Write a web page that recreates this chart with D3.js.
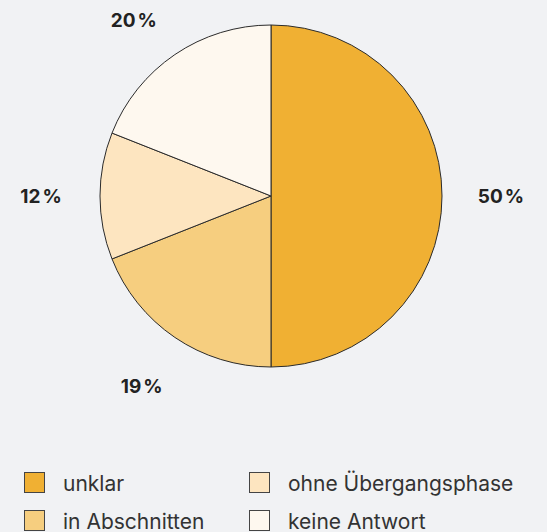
<!DOCTYPE html>
<html>
<head>
<meta charset="utf-8">
<script src="https://cdn.jsdelivr.net/npm/d3@7"></script>
<style>
  body { margin: 0; background: #f1f2f4; }
  svg { display: block; }
</style>
</head>
<body>
<div class="chart"></div>
<script>
var svgWidth = 547;
var svgHeight = 532;

// data
var categories = ["unklar", "in Abschnitten", "ohne Übergangsphase", "keine Antwort"];
var shares = [50, 19, 12, 19];
var percentLabels = ["50", "19", "12", "20"];
var colors = ["#f0b033", "#f6ce7f", "#fde5c0", "#fef8ef"];

var cx = 271, cy = 196, radius = 171;

var svg = d3.select(".chart")
  .append("svg")
  .attr("width", svgWidth)
  .attr("height", svgHeight)
  .style("font-family", "Inter, 'Noto Sans', sans-serif");

var pieGroup = svg.append("g")
  .attr("transform", `translate(${cx}, ${cy})`);

var pie = d3.pie().sort(null).value(d => d.value);
var arcs = pie(categories.map((c, i) => ({ name: c, value: shares[i], label: percentLabels[i], color: colors[i] })));

var arc = d3.arc().innerRadius(0).outerRadius(radius);
var labelArc = d3.arc().innerRadius(230).outerRadius(230);

pieGroup.selectAll("path")
  .data(arcs)
  .enter()
  .append("path")
  .attr("d", arc)
  .attr("fill", d => d.data.color)
  .attr("stroke", "#2b2b2b")
  .attr("stroke-width", 1);

// percent labels, kept inside the top edge
var labels = pieGroup.selectAll("text.pct")
  .data(arcs)
  .enter()
  .append("text")
  .classed("pct", true)
  .attr("x", d => labelArc.centroid(d)[0] - (labelArc.centroid(d)[1] < 20 - cy ? 8 : 0))
  .attr("y", d => Math.max(labelArc.centroid(d)[1], 20 - cy))
  .attr("dy", "0.35em")
  .attr("text-anchor", "middle")
  .attr("font-size", "19px")
  .attr("font-weight", 700)
  .attr("fill", "#222");
labels.append("tspan").text(d => d.data.label);
labels.append("tspan").attr("dx", 2).text("%");

// legend
var legend = svg.selectAll("g.legend")
  .data(categories)
  .enter()
  .append("g")
  .classed("legend", true)
  .attr("transform", (d, i) => `translate(${i < 2 ? 24 : 249}, ${472 + (i % 2) * 38})`);

legend.append("rect")
  .attr("x", 0.5)
  .attr("y", 0.5)
  .attr("width", 20)
  .attr("height", 20)
  .attr("fill", (d, i) => colors[i])
  .attr("stroke", "#444")
  .attr("stroke-width", 1);

legend.append("text")
  .attr("x", 39)
  .attr("y", 19)
  .attr("font-size", "21px")
  .attr("fill", "#333")
  .text(d => d);
</script>
</body>
</html>
